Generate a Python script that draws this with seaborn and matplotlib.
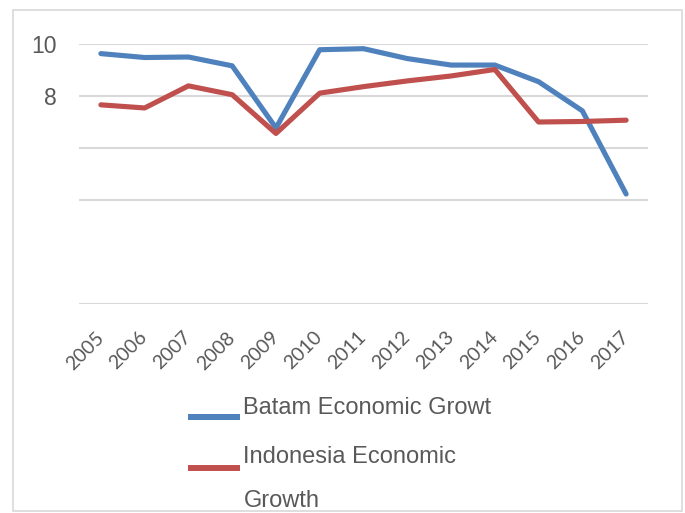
import matplotlib
matplotlib.use("Agg")
import numpy as np
import pandas as pd
import seaborn as sns
import matplotlib.pyplot as plt
from matplotlib.lines import Line2D
from matplotlib.patches import Rectangle
from matplotlib.legend_handler import HandlerLine2D

# ---- data ----
years = ["2005", "2006", "2007", "2008", "2009", "2010", "2011",
         "2012", "2013", "2014", "2015", "2016", "2017"]
batam = [9.63, 9.48, 9.50, 9.16, 6.77, 9.78, 9.82, 9.44, 9.19, 9.19, 8.55, 7.43, 4.23]
indonesia = [7.66, 7.54, 8.39, 8.05, 6.56, 8.11, 8.36, 8.58, 8.77, 9.02, 7.00, 7.02, 7.07]
series_names = ["Batam Economic Growt", "Indonesia Economic Growth"]
legend_labels = ["Batam Economic Growt", "Indonesia Economic\nGrowth"]
colors = ["#4f81bd", "#c0504d"]
ytick_vals = [0, 4, 6, 8, 10]
ytick_labels = ["", "", "", "8", "10"]

df = pd.DataFrame({
    "Year": years * 2,
    "Growth": batam + indonesia,
    "Series": [series_names[0]] * len(years) + [series_names[1]] * len(years),
})

sns.set_theme(style="white")
plt.rcParams["font.family"] = ["Liberation Sans", "DejaVu Sans"]

W, H = 685, 513
fig = plt.figure(figsize=(W / 100, H / 100), dpi=100)
ax = fig.add_axes([79 / W, 1 - 304 / H, (648 - 79) / W, (304 - 44) / H])

sns.lineplot(data=df, x="Year", y="Growth", hue="Series",
             palette=dict(zip(series_names, colors)), linewidth=3.7,
             ax=ax, legend=False, sort=False)

ax.set_xlim(-0.5, len(years) - 0.5)
ax.set_ylim(0, 10)
ax.set_yticks(ytick_vals)
ax.set_yticklabels(ytick_labels)
ax.set_xlabel("")
ax.set_ylabel("")
ax.grid(axis="y", color="#d9d9d9", linewidth=1.5)
ax.grid(axis="x", visible=False)
ax.set_axisbelow(True)
for s in ax.spines.values():
    s.set_visible(False)
ax.tick_params(axis="y", length=0, pad=16, labelsize=16.5, labelcolor="#595959")
ax.tick_params(axis="x", length=0, pad=22, labelcolor="#595959")
for lbl in ax.get_xticklabels():
    lbl.set_rotation(45)
    lbl.set_ha("right")
    lbl.set_va("center")
    lbl.set_rotation_mode("anchor")
    lbl.set_fontsize(14)
    lbl.set_family(["Lato", "DejaVu Sans"])


class ShiftHandler(HandlerLine2D):
    def __init__(self, dy, **kw):
        super().__init__(**kw)
        self.dy = dy

    def create_artists(self, legend, orig_handle, xdescent, ydescent,
                       width, height, fontsize, trans):
        arts = super().create_artists(legend, orig_handle, xdescent, ydescent,
                                      width, height, fontsize, trans)
        for a in arts:
            if isinstance(a, Line2D):
                a.set_ydata(np.asarray(a.get_ydata(), dtype=float) + self.dy)
        return arts


handles = [Line2D([], [], color=c, linewidth=4.3, solid_capstyle="butt") for c in colors]
hmap = {handles[0]: ShiftHandler(-8), handles[1]: ShiftHandler(8)}
leg = fig.legend(handles, legend_labels, loc="upper left",
                 bbox_to_anchor=(188 / W, 1 - 397 / H),
                 frameon=False, fontsize=17, handlelength=2.2,
                 handletextpad=0.15, borderpad=0, borderaxespad=0,
                 labelspacing=1.15, handler_map=hmap)
for t in leg.get_texts():
    t.set_color("#595959")
    t.set_linespacing(2.3)

fig.add_artist(Rectangle((13 / W, 1 - 511 / H), (682 - 13) / W, (511 - 10) / H,
                         transform=fig.transFigure, fill=False,
                         edgecolor="#d9d9d9", linewidth=1.2))

fig.savefig("out.png", dpi=100)
